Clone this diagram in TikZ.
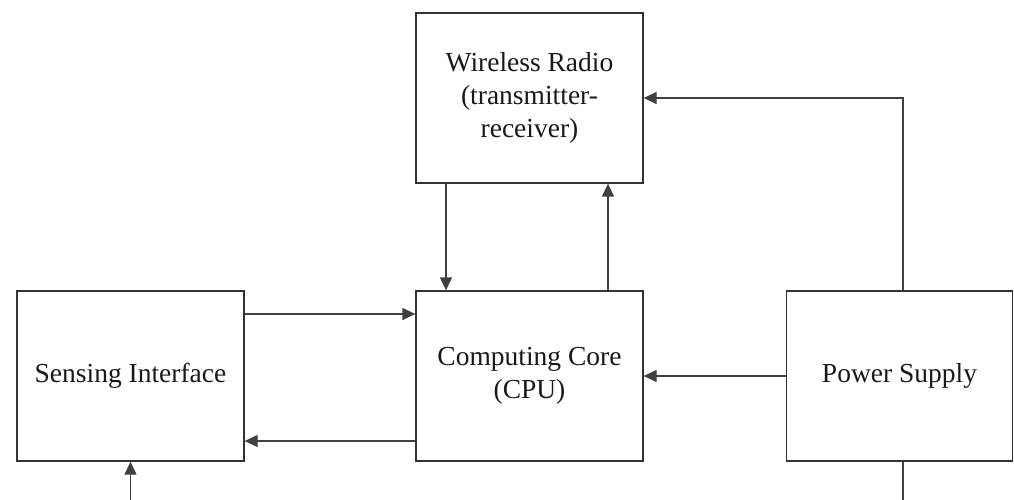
\documentclass[tikz,border=0pt]{standalone}
\usepackage{fontspec}
\setmainfont{Liberation Serif}
\usetikzlibrary{arrows.meta}
\begin{document}
\begin{tikzpicture}[x=1pt,y=-1pt,
  blk/.style={draw=black!80, line width=1.3pt, minimum width=227pt, minimum height=170pt,
    inner sep=0pt, align=center, text=black!90, font=\rmfamily\fontsize{27.5}{33}\selectfont},
  arr/.style={draw=black!75, line width=1.3pt, -{Triangle[length=13pt,width=12pt]}},
  ln/.style={draw=black!75, line width=1.3pt}]
\useasboundingbox (0,0) rectangle (1014,500);
\node[blk] (wr) at (529.5,98) {Wireless Radio\\(transmitter-\\receiver)};
\node[blk] (cpu) at (529.5,376) {Computing Core\\(CPU)};
\node[blk] (si) at (130.5,376) {Sensing Interface};
\node[blk, minimum width=226pt] (ps) at (899.5,376) {Power Supply};
\coordinate (b1) at (130.5,500);
\coordinate (b2) at (903,500);
\draw[arr] ([xshift=-83.5pt]wr.south) -- ([xshift=-83.5pt]cpu.north);
\draw[arr] ([xshift=78.5pt]cpu.north) -- ([xshift=78.5pt]wr.south);
\draw[arr] ([xshift=3.5pt]ps.north) |- (wr.east);
\draw[arr] (ps.west) -- (cpu.east);
\draw[arr] ([yshift=62pt]si.east) -- ([yshift=62pt]cpu.west);
\draw[arr] ([yshift=-65pt]cpu.west) -- ([yshift=-65pt]si.east);
\draw[arr] (b1) -- (si.south);
\draw[ln] ([xshift=3.5pt]ps.south) -- (b2);
\end{tikzpicture}
\end{document}
